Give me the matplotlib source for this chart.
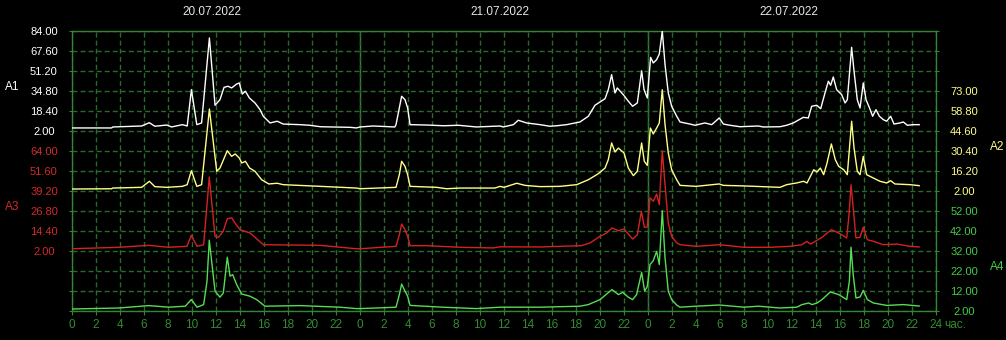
import matplotlib.pyplot as plt
from matplotlib.transforms import blended_transform_factory

# time in hours from 20.07.2022 00:00
t_a1 = [0, 3.3, 3.4, 5.8, 6.45, 6.9, 7.9, 8.3, 9.2, 9.6, 9.95, 10.4, 10.8, 11.45, 11.92,
        12.33, 12.67, 13.0, 13.3, 13.72, 13.94, 14.19, 14.45, 14.78, 15.25, 15.67, 15.94,
        16.5, 17.1, 17.6, 19.0, 19.8, 20.7, 23.2, 23.7,
        24.0, 25.1, 26.9, 27.0, 27.28, 27.47, 27.75, 27.97, 28.17, 29.56, 31.0, 32.2, 33.7,
        35.67, 35.94, 36.78, 37.19, 37.89, 39.0, 39.83, 40.39, 41.22, 42.33, 43.03, 43.58,
        44.0, 44.42, 44.69, 44.97, 45.25, 45.44, 45.94, 46.36, 46.72, 47.11, 47.47, 47.67, 47.94,
        48.22, 48.44, 48.72, 48.94, 49.19, 49.42, 49.69, 49.97, 50.39, 50.67, 51.5, 51.92,
        52.75, 53.31, 53.94, 54.28, 54.83, 55.67, 57.19, 57.61, 59.0, 59.56, 60.11, 60.94,
        61.36, 61.64, 62.06, 62.39, 62.75, 63.03, 63.22, 63.44, 63.72, 64.14, 64.42, 64.61,
        64.97, 65.17, 65.44, 65.67, 65.94, 66.17, 66.44, 66.72, 67.0, 67.28, 67.61, 67.89,
        68.22, 68.5, 69.0, 69.28, 69.61, 70.11, 70.6]
a1 = [4.5, 4.5, 5.3, 6.1, 8.8, 5.9, 6.9, 5.3, 7.2, 6.1, 35.9, 7.2, 8.6, 78.3, 23.1,
      27.7, 37.8, 38.7, 37.3, 40.5, 41.4, 32.3, 34.6, 29.1, 25.0, 19.5, 14.1,
      8.6, 10.0, 7.7, 7.2, 6.7, 5.5, 5.0, 4.5,
      5.3, 6.1, 5.3, 7.2, 20.9, 30.5, 27.7, 20.9, 7.2, 6.9, 6.3, 6.7, 5.3,
      6.1, 5.3, 7.2, 10.8, 8.6, 7.2, 5.9, 6.3, 7.2, 9.4, 14.1, 23.1,
      25.8, 28.5, 35.9, 48.2, 33.2, 37.3, 31.8, 26.4, 22.3, 25.0, 51.4, 35.9, 29.1,
      62.4, 57.8, 60.5, 65.1, 84.0, 56.4, 33.2, 22.3, 14.1, 9.4, 7.7, 6.7,
      8.6, 7.2, 12.7, 7.7, 6.7, 5.5, 6.1, 5.3, 5.5, 6.7, 8.6, 13.2,
      12.7, 22.3, 23.1, 20.3, 33.2, 42.8, 39.5, 46.3, 35.9, 31.8, 25.0, 27.7,
      70.6, 51.0, 27.7, 20.9, 41.4, 27.7, 21.4, 14.1, 19.5, 14.1, 11.3, 10.0,
      14.1, 7.7, 8.6, 9.4, 6.7, 7.2, 7.2]

t_a2 = [0, 3.3, 3.4, 5.8, 6.45, 6.9, 7.9, 9.2, 9.6, 9.95, 10.4, 10.8, 11.45, 12.06, 12.33,
        12.94, 13.3, 13.6, 13.94, 14.15, 14.45, 14.8, 15.25, 15.8, 16.4, 17.1, 17.6, 20.7, 23.7,
        24.0, 27.0, 27.28, 27.47, 27.75, 27.97, 28.17, 30.39, 31.22, 32.33, 35.25, 35.67,
        36.0, 37.06, 37.75, 39.0, 40.67, 42.06, 43.03, 43.86, 44.42, 44.69, 44.97, 45.25,
        45.53, 46.0, 46.36, 46.78, 47.11, 47.47, 47.69, 47.94,
        48.2, 48.44, 48.72, 48.94, 49.19, 49.42, 49.69, 49.97, 50.39, 50.67, 52.0, 53.94,
        54.28, 56.0, 59.0, 59.56, 60.39, 60.97, 61.25, 61.53, 61.81, 62.08, 62.36, 62.64,
        62.92, 63.28, 63.61, 63.89, 64.31, 64.61, 64.97, 65.17, 65.44, 65.67, 65.94, 66.22,
        66.78, 67.33, 67.89, 68.22, 68.58, 69.83, 70.6]
a2 = [3.4, 3.6, 4.1, 4.6, 8.9, 5.1, 4.6, 5.3, 6.5, 16.4, 5.3, 6.5, 60.2, 16.0, 18.3,
      30.6, 26.6, 28.3, 25.4, 21.9, 23.1, 18.3, 16.0, 10.0, 7.0, 7.5, 6.5, 5.3, 4.1,
      3.6, 4.6, 13.6, 23.1, 19.5, 13.6, 5.3, 4.6, 3.6, 4.1, 4.1, 5.3,
      4.6, 7.5, 6.0, 5.1, 5.3, 6.5, 10.0, 14.3, 18.3, 24.2, 36.1, 29.7,
      32.5, 29.0, 18.3, 12.9, 16.0, 36.1, 23.1, 20.2,
      46.7, 42.5, 46.7, 50.3, 73.9, 49.1, 29.0, 17.1, 10.0, 6.0, 5.3, 7.0,
      6.0, 5.6, 4.6, 6.5, 7.7, 8.9, 7.7, 12.4, 17.1, 15.5, 18.3, 13.6,
      21.9, 35.4, 24.2, 19.5, 17.1, 13.6, 51.5, 32.5, 16.0, 13.6, 26.6, 13.6,
      11.2, 8.9, 7.7, 9.3, 7.0, 6.5, 5.8]

t_a3 = [0, 3.9, 6.4, 8.06, 9.58, 9.94, 10.42, 10.97, 11.25, 11.44, 11.92, 12.2, 12.6,
        12.94, 13.31, 13.58, 14.0, 14.83, 15.25, 15.94, 20.67, 23.7,
        24.0, 27.0, 27.28, 27.47, 27.75, 27.97, 28.17, 29.56, 32.33, 35.1, 35.67, 39.0,
        42.47, 43.17, 44.0, 44.56, 45.0, 45.53, 46.0, 46.36, 46.72, 47.11, 47.45, 47.7, 47.94,
        48.17, 48.44, 48.72, 48.94, 49.19, 49.42, 49.69, 49.97, 50.39, 50.67, 52.06, 53.94,
        56.0, 58.17, 59.83, 60.83, 61.25, 61.53, 61.94, 62.5, 63.28, 63.89, 64.56, 64.75,
        64.92, 65.05, 65.33, 65.67, 65.94, 66.28, 66.78, 67.61, 68.72, 69.83, 70.6]
a3 = [3.4, 4.3, 5.5, 4.3, 4.9, 11.7, 4.9, 5.9, 30.7, 47.9, 11.1, 10.5, 14.2,
      22.0, 22.5, 19.4, 15.2, 13.2, 10.5, 5.9, 5.5, 3.4,
      3.4, 4.9, 12.1, 18.7, 15.2, 11.1, 5.3, 5.3, 4.3, 3.9, 4.6, 4.5,
      5.3, 7.0, 11.1, 13.2, 16.3, 14.6, 15.6, 12.5, 9.4, 12.1, 26.6, 16.7, 16.9,
      34.9, 32.8, 37.3, 30.7, 64.2, 43.1, 19.4, 11.1, 7.0, 5.9, 4.9, 5.9,
      4.3, 4.3, 4.9, 5.9, 8.0, 6.3, 8.0, 10.5, 15.2, 13.2, 10.1, 24.5,
      43.1, 32.8, 10.1, 10.5, 16.7, 9.0, 8.0, 5.9, 6.3, 4.9, 4.5]

t_a4 = [0, 3.9, 6.4, 8.06, 9.44, 9.94, 10.42, 10.97, 11.25, 11.44, 11.92, 12.33, 12.61,
        12.94, 13.17, 13.39, 13.72, 14.14, 14.83, 15.39, 16.08, 19.0, 22.33, 23.7,
        24.0, 27.0, 27.28, 27.47, 27.75, 27.97, 28.17, 30.9, 33.7, 35.67, 39.0, 42.33,
        43.03, 44.0, 44.56, 45.0, 45.53, 45.9, 46.36, 46.72, 47.05, 47.47, 47.72, 47.94,
        48.17, 48.44, 48.72, 48.94, 49.19, 49.42, 49.69, 49.97, 50.39, 50.67, 52.0, 53.94,
        56.0, 57.2, 59.0, 60.39, 60.83, 61.39, 61.67, 62.08, 62.5, 63.19, 63.89, 64.56,
        64.78, 64.92, 65.1, 65.33, 65.67, 65.94, 66.28, 66.78, 67.89, 69.28, 70.6]
a4 = [3.0, 3.5, 4.7, 3.9, 4.4, 7.7, 3.9, 5.2, 16.9, 37.4, 11.9, 8.9, 11.0,
      28.9, 19.4, 20.2, 15.2, 10.5, 9.4, 7.7, 4.4, 4.7, 3.9, 3.2,
      3.2, 3.9, 10.2, 15.5, 11.9, 9.4, 4.8, 3.9, 3.2, 3.9, 3.9, 4.4,
      5.2, 7.7, 10.5, 12.7, 10.2, 11.3, 8.9, 7.7, 10.2, 21.3, 11.9, 14.3,
      25.2, 27.2, 31.8, 25.2, 52.2, 28.5, 11.9, 7.7, 5.0, 3.9, 4.4, 5.0,
      3.9, 4.4, 3.5, 3.9, 5.2, 6.0, 5.2, 6.0, 7.7, 11.5, 10.2, 7.7,
      16.9, 33.9, 20.2, 8.5, 9.0, 12.3, 7.7, 6.0, 4.8, 5.2, 4.5]

dates = ["20.07.2022", "21.07.2022", "22.07.2022"]
a1_ticks = [84.0, 67.6, 51.2, 34.8, 18.4, 2.0]
a2_ticks = [73.0, 58.8, 44.6, 30.4, 16.2, 2.0]
a3_ticks = [64.0, 51.6, 39.2, 26.8, 14.4, 2.0]
a4_ticks = [52.0, 42.0, 32.0, 22.0, 12.0, 2.0]

FRAME = "#358535"
GRID = "#2a6a2a"
TXT = "#338c33"
plt.rcParams["font.family"] = ["Liberation Sans", "DejaVu Sans"]
plt.rcParams["font.size"] = 8

fig = plt.figure(figsize=(10.06, 3.4), dpi=100, facecolor="black")
ax1 = fig.add_axes([72 / 1006, 29 / 340, 864 / 1006, 280 / 340])
ax1.set_facecolor("black")

# 14 grid rows; each scale's labelled rows sit at fixed rows from the top
step1 = a1_ticks[0] - a1_ticks[1]
step2 = a2_ticks[0] - a2_ticks[1]
step3 = a3_ticks[0] - a3_ticks[1]
step4 = a4_ticks[0] - a4_ticks[1]
ax1.set_ylim(a1_ticks[0] - 14 * step1, a1_ticks[0])

ax2 = ax1.twinx()
ax2.set_ylim(a2_ticks[0] - 11 * step2, a2_ticks[0] + 3 * step2)
ax3 = ax1.twinx()
ax3.set_ylim(a3_ticks[0] - 8 * step3, a3_ticks[0] + 6 * step3)
ax4 = ax1.twinx()
ax4.set_ylim(a4_ticks[-1], a4_ticks[0] + 9 * step4)

ax1.set_xlim(0, 72)
xt = list(range(0, 73, 2))
ax1.set_xticks(xt)
ax1.set_xticklabels([str(x % 24) if x < 72 else "24" for x in xt])
ax1.tick_params(axis="x", colors=FRAME, labelcolor=TXT, length=3, pad=3, labelsize=8.5)

levels1 = [a1_ticks[0] - i * step1 for i in range(15)]
ax1.set_yticks(levels1)
ax1.set_yticklabels(["%.2f" % v if v > 1 else "" for v in levels1])
ax1.tick_params(axis="y", colors=FRAME, labelcolor="white", length=2.2, pad=18)
for lab in ax1.get_yticklabels():
    lab.set_ha("center")

ax1.grid(True, color=GRID, linewidth=1.0, linestyle=(0, (3.6, 2.2)))
for sp in ax1.spines.values():
    sp.set_color(FRAME)
    sp.set_linewidth(1.0)
for d in (24, 48):
    ax1.axvline(d, color=FRAME, linewidth=1.0, zorder=1)

ax3.yaxis.tick_left()
ax3.set_yticks(a3_ticks)
ax3.set_yticklabels(["%.2f" % v for v in a3_ticks])
ax3.tick_params(axis="y", length=0, pad=20.2, labelcolor="#d42a2a")
for lab in ax3.get_yticklabels():
    lab.set_ha("center")

ax2.set_yticks(a2_ticks)
ax2.set_yticklabels(["%.2f" % v for v in a2_ticks])
ax2.tick_params(axis="y", length=0, pad=20.2, labelcolor="#ffff88")
for lab in ax2.get_yticklabels():
    lab.set_ha("center")

levels4 = [a4_ticks[-1] + i * step4 for i in range(15)]
ax4.set_yticks(levels4)
ax4.set_yticklabels(["%.2f" % v if v < 53 else "" for v in levels4])
ax4.tick_params(axis="y", colors=FRAME, labelcolor="#44cc44", length=2.2, pad=18)
for lab in ax4.get_yticklabels():
    lab.set_ha("center")

for ax in (ax2, ax3, ax4):
    for sp in ax.spines.values():
        sp.set_visible(False)

ax4.plot(t_a4, a4, color="#55dd55", linewidth=1.0)
ax3.plot(t_a3, a3, color="#d42222", linewidth=1.0)
ax2.plot(t_a2, a2, color="#ffff88", linewidth=1.0)
ax1.plot(t_a1, a1, color="white", linewidth=1.0, zorder=3)
ax1.set_zorder(4)
ax1.patch.set_visible(True)
for ax in (ax2, ax3, ax4):
    ax.set_zorder(5)

trans = blended_transform_factory(ax1.transData, fig.transFigure)
for i, d in enumerate(dates):
    ax1.text(24 * i + 11.7, 1 - 12 / 340, d, transform=trans, color="#e6e6e6",
             ha="center", va="center", fontsize=8.5)
fig.text(944 / 1006, 1 - 325 / 340, "час.", color=TXT, ha="left", va="center", fontsize=8.5)

fig.text(12 / 1006, 1 - 87 / 340, "A1", color="white", ha="center", va="center", fontsize=8.5)
fig.text(12 / 1006, 1 - 207 / 340, "A3", color="#d42a2a", ha="center", va="center", fontsize=8.5)
fig.text(997 / 1006, 1 - 147 / 340, "A2", color="#ffff88", ha="center", va="center", fontsize=8.5)
fig.text(997 / 1006, 1 - 267 / 340, "A4", color="#44cc44", ha="center", va="center", fontsize=8.5)

fig.savefig("out.png", dpi=100, facecolor="black")
